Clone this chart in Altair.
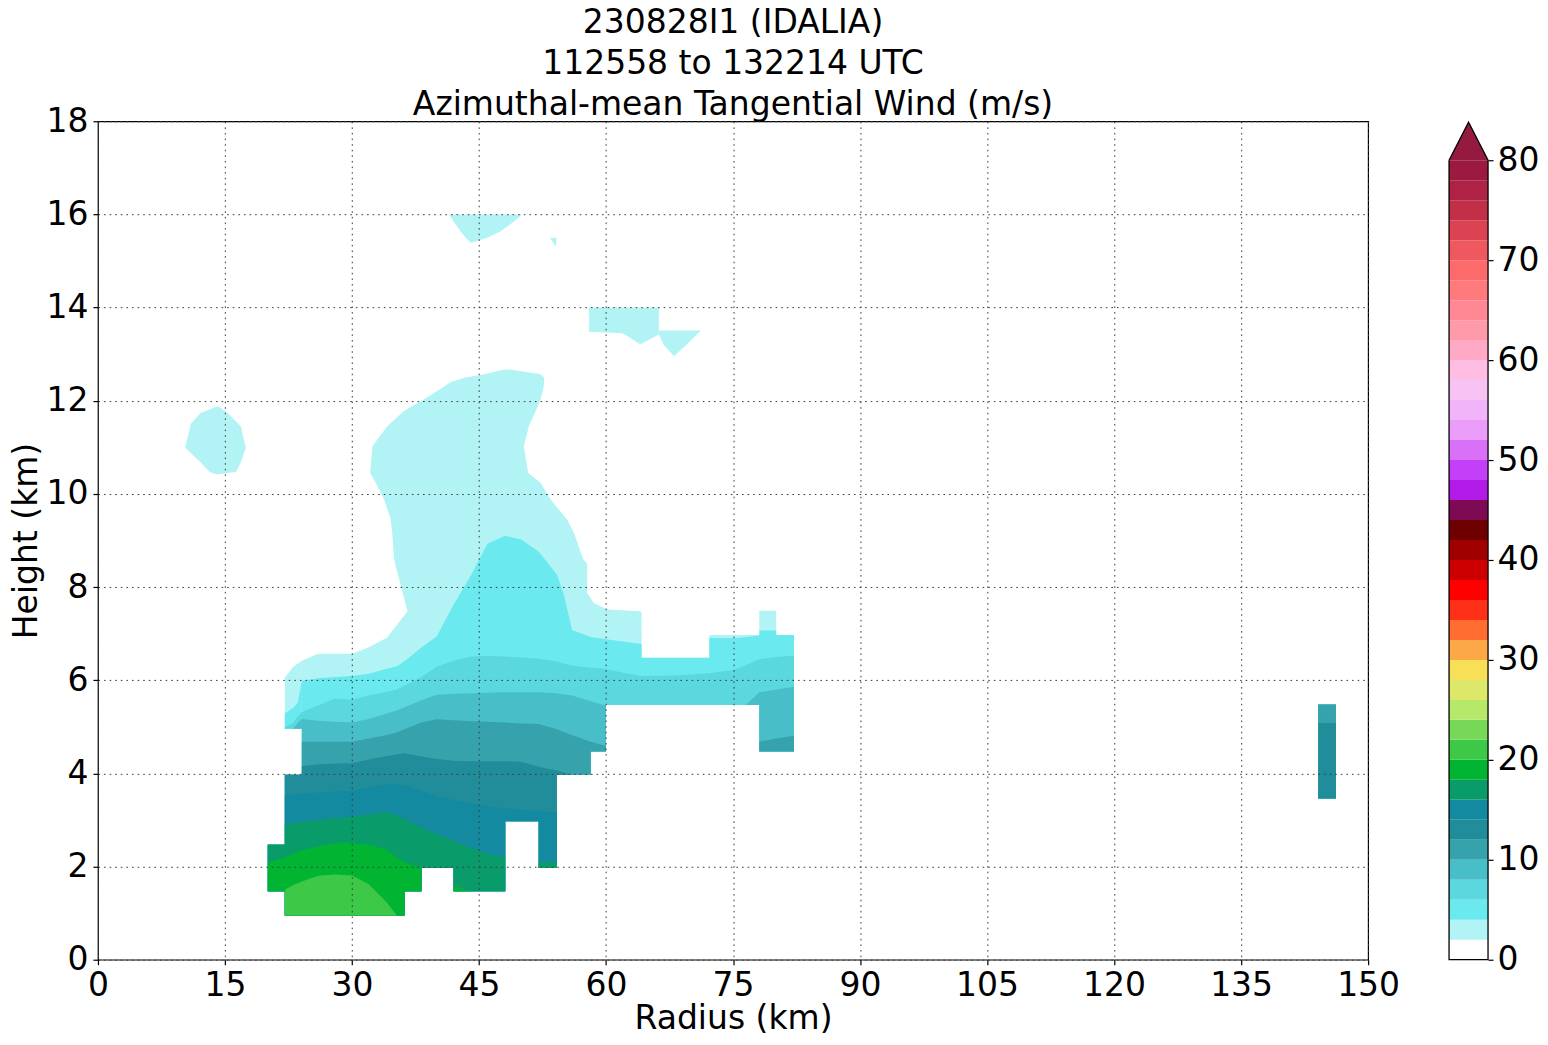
import altair as alt
import pandas as pd

# ---------------- colour bands (m/s): lower bound of each 2 m/s band ----------------
LEVELS = list(range(0, 80, 2))
COLORS = ["#ffffff", "#b2f4f5", "#6ae9ee", "#5bd8de", "#48bec8", "#36a2ac", "#218d9b", "#138aa0",
          "#099b6a", "#01b432", "#3ec847", "#77d858", "#b6e86a", "#dde86a", "#f8df58", "#fca848",
          "#ff6e30", "#ff3018", "#ff0000", "#cc0000", "#a00000", "#6e0000", "#7d0a52", "#b21ae8",
          "#c43ff8", "#d870f8", "#e99cf8", "#f1b4f8", "#f7c2f4", "#febde2", "#ffaac4", "#ff9aaa",
          "#ff8894", "#ff7a7c", "#fd6a6c", "#f05860", "#db4252", "#c23048", "#ae2245", "#9c1a42"]
OVER_COLOR = "#951a40"
CBAR_TICKS = [0, 10, 20, 30, 40, 50, 60, 70, 80]
X_TICKS = [0, 15, 30, 45, 60, 75, 90, 105, 120, 135, 150]
Y_TICKS = [0, 2, 4, 6, 8, 10, 12, 14, 16, 18]

# ---------------- main body: radius (km), data bottom (km), top of region >= level (km) ----------------
# 0 means the level is absent at that radius
MAIN_R = [20.06, 22.07, 22.07, 23.0, 24.08, 24.08, 26.0, 28.0, 30.0, 32.0, 34.0, 35.3, 36.2, 36.2,
          38.2, 38.2, 40.0, 42.0, 42.0, 44.0, 46.0, 48.1, 48.1, 50.0, 52.05, 52.05, 54.2, 54.2,
          55.0, 56.0, 58.2, 58.2, 60.0, 60.0, 62.0, 64.2, 64.2, 68.0, 72.2, 72.2, 75.0, 76.5,
          78.1, 78.1, 80.1, 80.1, 82.2]
MAIN_BOTTOM = [1.47, 1.47, 0.95, 0.95, 0.95, 0.95, 0.95, 0.95, 0.95, 0.95, 0.95, 0.95, 0.95, 1.47,
               1.47, 1.97, 1.97, 1.97, 1.47, 1.47, 1.47, 1.47, 2.97, 2.97, 2.97, 1.97, 1.97, 3.97,
               3.97, 3.97, 3.97, 4.47, 4.47, 5.47, 5.47, 5.47, 5.47, 5.47, 5.47, 5.47, 5.47, 5.47,
               5.47, 4.47, 4.47, 4.47, 4.47]
MAIN_TOP_2 = [2.47, 2.47, 3.97, 3.97, 3.97, 6.42, 6.57, 6.57, 6.57, 6.71, 6.9, 6.95, 6.95, 6.95,
              6.95, 6.95, 6.95, 6.95, 6.95, 6.95, 6.95, 6.95, 6.95, 6.95, 6.95, 6.95, 6.95, 6.95,
              6.95, 6.95, 6.95, 6.95, 6.95, 6.95, 6.95, 6.95, 6.48, 6.48, 6.48, 6.97, 6.97, 6.97,
              6.97, 7.49, 7.49, 6.97, 6.97]
MAIN_TOP_4 = [2.47, 2.47, 3.97, 3.97, 3.97, 5.99, 6.04, 6.07, 6.09, 6.14, 6.24, 6.3, 6.41, 6.41,
              6.7, 6.7, 6.94, 7.62, 7.62, 8.24, 8.93, 9.1, 9.1, 9.02, 8.76, 8.76, 8.27, 8.27,
              7.85, 7.08, 6.93, 6.93, 6.88, 6.88, 6.83, 6.78, 6.48, 6.48, 6.48, 6.91, 6.9, 6.93,
              6.96, 7.07, 7.07, 6.97, 6.97]
MAIN_TOP_6 = [2.47, 2.47, 3.97, 3.97, 3.97, 5.32, 5.46, 5.61, 5.58, 5.67, 5.75, 5.8, 5.88, 5.88,
              6.07, 6.07, 6.29, 6.42, 6.42, 6.51, 6.52, 6.51, 6.51, 6.49, 6.46, 6.46, 6.4, 6.4,
              6.36, 6.31, 6.27, 6.27, 6.24, 6.24, 6.16, 6.09, 6.09, 6.1, 6.15, 6.15, 6.22, 6.32,
              6.45, 6.45, 6.5, 6.5, 6.53]
MAIN_TOP_8 = [2.47, 2.47, 3.97, 3.97, 3.97, 5.17, 5.13, 5.11, 5.09, 5.17, 5.28, 5.35, 5.42, 5.42,
              5.57, 5.57, 5.69, 5.71, 5.71, 5.72, 5.73, 5.74, 5.74, 5.74, 5.74, 5.74, 5.72, 5.72,
              5.7, 5.67, 5.55, 5.55, 5.45, 0, 0, 0, 0, 0, 0, 0, 0, 5.47,
              5.74, 5.74, 5.8, 5.8, 5.86]
MAIN_TOP_10 = [2.47, 2.47, 3.97, 3.97, 3.97, 4.68, 4.68, 4.68, 4.68, 4.75, 4.82, 4.88, 4.95, 4.95,
               5.09, 5.09, 5.16, 5.14, 5.14, 5.12, 5.11, 5.09, 5.09, 5.07, 5.06, 5.06, 4.95, 4.95,
               4.89, 4.82, 4.68, 4.68, 4.59, 0, 0, 0, 0, 0, 0, 0, 0, 0,
               0, 4.68, 4.75, 4.75, 4.81]
MAIN_TOP_12 = [2.47, 2.47, 3.97, 3.97, 3.97, 4.16, 4.19, 4.21, 4.22, 4.3, 4.37, 4.41, 4.43, 4.43,
               4.36, 4.36, 4.31, 4.27, 4.27, 4.26, 4.26, 4.26, 4.26, 4.25, 4.14, 4.14, 4.06, 4.06,
               4.02, 0, 0, 0, 0, 0, 0, 0, 0, 0, 0, 0, 0, 0,
               0, 0, 0, 0, 0]
MAIN_TOP_14 = [2.47, 2.47, 3.53, 3.55, 3.57, 3.57, 3.59, 3.61, 3.62, 3.7, 3.76, 3.77, 3.75, 3.75,
               3.63, 3.63, 3.51, 3.43, 3.43, 3.36, 3.29, 3.25, 3.25, 3.22, 3.19, 3.19, 3.17, 0,
               0, 0, 0, 0, 0, 0, 0, 0, 0, 0, 0, 0, 0, 0,
               0, 0, 0, 0, 0]
MAIN_TOP_16 = [2.47, 2.47, 2.89, 2.93, 2.96, 2.96, 3.0, 3.04, 3.07, 3.12, 3.17, 3.1, 3.02, 3.02,
               2.84, 2.84, 2.7, 2.55, 2.55, 2.41, 2.27, 2.2, 0, 0, 0, 2.1, 2.1, 0,
               0, 0, 0, 0, 0, 0, 0, 0, 0, 0, 0, 0, 0, 0,
               0, 0, 0, 0, 0]
MAIN_TOP_18 = [2.08, 2.19, 2.19, 2.27, 2.35, 2.35, 2.43, 2.5, 2.51, 2.47, 2.37, 2.19, 2.1, 2.1,
               1.97, 0, 0, 0, 1.6, 0, 0, 0, 0, 0, 0, 0, 0, 0,
               0, 0, 0, 0, 0, 0, 0, 0, 0, 0, 0, 0, 0, 0,
               0, 0, 0, 0, 0]
MAIN_TOP_20 = [0, 0, 1.5, 1.6, 1.68, 1.68, 1.8, 1.83, 1.81, 1.62, 1.25, 0, 0, 0,
               0, 0, 0, 0, 0, 0, 0, 0, 0, 0, 0, 0, 0, 0,
               0, 0, 0, 0, 0, 0, 0, 0, 0, 0, 0, 0, 0, 0,
               0, 0, 0, 0, 0]

# ---------------- small block at r 22-24 km, 5-6 km height ----------------
LEFT_R = [22.07, 23.0, 23.6, 24.08]
LEFT_BOTTOM = [4.96, 4.96, 4.96, 4.96]
LEFT_TOP_2 = [6.06, 6.28, 6.36, 6.42]
LEFT_TOP_4 = [5.29, 5.4, 5.52, 5.99]
LEFT_TOP_6 = [4.99, 5.08, 5.22, 5.32]
LEFT_TOP_8 = [0, 0, 5.08, 5.17]

# ---------------- isolated column at r 144-146 km ----------------
COL_R = [144.1, 146.2]
COL_BOTTOM = [3.46, 3.46]
COL_TOP_10 = [5.48, 5.48]
COL_TOP_12 = [5.08, 5.08]

# ---------------- 2-4 m/s regions described by height: left / right radius ----------------
UPPER_H = [6.9, 6.93, 7.45, 7.48, 7.52, 7.66, 7.87, 8.3, 8.5, 8.6, 9.17, 9.45, 9.88, 10.02, 10.24,
           10.45, 11.03, 11.46, 11.78, 12.03, 12.26, 12.4, 12.5, 12.57, 12.67]
UPPER_LEFT = [34.1, 34.19, 36.42, 36.55, 36.5, 36.3, 36.0, 35.37, 35.1, 34.97, 34.75, 34.58, 33.8,
              33.4, 32.8, 32.14, 32.42, 34.2, 36.15, 38.5, 40.48, 41.66, 43.4, 45.6, 48.0]
UPPER_RIGHT = [64.2, 64.2, 64.2, 64.1, 60.15, 58.57, 57.78, 57.78, 57.78, 57.3, 56.2, 55.4, 53.46,
               53.0, 52.28, 50.8, 50.3, 50.9, 51.7, 52.28, 52.6, 52.7, 52.68, 52.28, 48.7]
WBLOB_H = [10.42, 10.45, 10.47, 10.67, 10.99, 11.2, 11.45, 11.51, 11.74, 11.87]
WBLOB_LEFT = [14.0, 13.53, 13.2, 12.16, 10.3, 10.58, 10.9, 11.0, 12.16, 14.0]
WBLOB_RIGHT = [14.3, 15.3, 16.29, 16.85, 17.47, 17.19, 16.88, 16.55, 15.3, 14.3]
NBLOB_H = [15.39, 15.5, 15.64, 15.82, 16.0]
NBLOB_LEFT = [44.0, 43.43, 42.8, 42.1, 41.47]
NBLOB_RIGHT = [44.1, 46.0, 47.56, 48.94, 50.12]
SQ_H = [15.32, 15.5]
SQ_LEFT = [54.0, 53.38]
SQ_RIGHT = [54.13, 54.13]
EBLOB1_H = [13.22, 13.42, 13.45, 13.48, 14.0]
EBLOB1_LEFT = [64.0, 62.2, 61.9, 58.0, 58.0]
EBLOB1_RIGHT = [64.15, 66.25, 66.25, 66.25, 66.25]
EBLOB2_H = [12.96, 13.2, 13.42, 13.51]
EBLOB2_LEFT = [68.0, 66.8, 66.25, 66.25]
EBLOB2_RIGHT = [68.05, 69.5, 70.7, 71.25]

TITLE = ["230828I1 (IDALIA)", "112558 to 132214 UTC", "Azimuthal-mean Tangential Wind (m/s)"]

# ---------------- build tables ----------------
VERTICAL = [
    ("main", MAIN_R, MAIN_BOTTOM, {2: MAIN_TOP_2, 4: MAIN_TOP_4, 6: MAIN_TOP_6, 8: MAIN_TOP_8,
                                   10: MAIN_TOP_10, 12: MAIN_TOP_12, 14: MAIN_TOP_14,
                                   16: MAIN_TOP_16, 18: MAIN_TOP_18, 20: MAIN_TOP_20}),
    ("left", LEFT_R, LEFT_BOTTOM, {2: LEFT_TOP_2, 4: LEFT_TOP_4, 6: LEFT_TOP_6, 8: LEFT_TOP_8}),
    ("col", COL_R, COL_BOTTOM, {2: COL_TOP_10, 4: COL_TOP_10, 6: COL_TOP_10, 8: COL_TOP_10,
                                10: COL_TOP_10, 12: COL_TOP_12}),
]
HORIZONTAL = [
    ("upper", UPPER_H, UPPER_LEFT, UPPER_RIGHT),
    ("wblob", WBLOB_H, WBLOB_LEFT, WBLOB_RIGHT),
    ("nblob", NBLOB_H, NBLOB_LEFT, NBLOB_RIGHT),
    ("sq", SQ_H, SQ_LEFT, SQ_RIGHT),
    ("eblob1", EBLOB1_H, EBLOB1_LEFT, EBLOB1_RIGHT),
    ("eblob2", EBLOB2_H, EBLOB2_LEFT, EBLOB2_RIGHT),
]

vrows = []
for name, rr, bot, tops in VERTICAL:
    for lvl, top in tops.items():
        for i, (r, b, t) in enumerate(zip(rr, bot, top)):
            vrows.append({"piece": name, "level": lvl, "i": i, "r": r, "y0": b, "y1": max(t, b)})
vdf = pd.DataFrame(vrows)

hrows = []
for name, hh, lo, hi in HORIZONTAL:
    for i, (h, a, c) in enumerate(zip(hh, lo, hi)):
        hrows.append({"piece": name, "level": 2, "i": i, "h": h, "x0": a, "x1": c})
hdf = pd.DataFrame(hrows)

FONT = "DejaVu Sans"
FS = 33
xsc = alt.Scale(domain=[0, 150], nice=False, zero=False)
ysc = alt.Scale(domain=[0, 18], nice=False, zero=False)
csc = alt.Scale(domain=LEVELS, range=COLORS)

axis_common = dict(labelFontSize=FS, titleFontSize=FS, labelFont=FONT, titleFont=FONT,
                   tickSize=5, tickColor="black", tickWidth=1.2, labelColor="black",
                   titleColor="black", titleFontWeight="normal", grid=True,
                   gridDash=[1.6, 4], gridColor="#3a3a3a", gridWidth=1, gridOpacity=1,
                   domain=False, zindex=1, labelFlush=False, labelOverlap=False)
xaxis = alt.Axis(values=X_TICKS, title="Radius (km)", labelPadding=5, titlePadding=0, **axis_common)
yaxis = alt.Axis(values=Y_TICKS, title="Height (km)", labelPadding=5, titlePadding=2, **axis_common)

layers = []
for lvl in [2, 4, 6, 8, 10, 12, 14, 16, 18, 20]:
    layers.append(
        alt.Chart(vdf).transform_filter(alt.datum.level == lvl).mark_area(
            interpolate="linear", opacity=1, clip=True
        ).encode(
            x=alt.X("r:Q", scale=xsc, axis=xaxis),
            y=alt.Y("y1:Q", scale=ysc, axis=yaxis),
            y2="y0:Q",
            color=alt.Color("level:O", scale=csc, legend=None),
            detail="piece:N",
        )
    )
    if lvl == 2:
        layers.append(
            alt.Chart(hdf).mark_area(orient="horizontal", interpolate="linear", opacity=1,
                                     clip=True).encode(
                y=alt.Y("h:Q", scale=ysc, axis=yaxis),
                x=alt.X("x1:Q", scale=xsc, axis=xaxis),
                x2="x0:Q",
                color=alt.Color("level:O", scale=csc, legend=None),
                detail="piece:N",
            )
        )

main = alt.layer(*layers).properties(
    width=1271, height=839,
    title=alt.TitleParams(TITLE, fontSize=FS, font=FONT, fontWeight="normal", color="black",
                          lineHeight=41, anchor="middle", offset=-16.5, frame="group"),
    view=alt.ViewBackground(stroke="black", strokeWidth=1.2),
)

# ---------------- colour bar ----------------
CB_EXT = 3.8  # height of the extension triangle, in colour-bar units
cb_df = pd.DataFrame({"lo": LEVELS, "hi": [v + 2 for v in LEVELS], "level": LEVELS})
top_val = LEVELS[-1] + 2
tri_df = pd.DataFrame({"x": [0, 0.5, 1], "y": [top_val, top_val + CB_EXT, top_val],
                       "base": [top_val, top_val, top_val]})
outline_df = pd.DataFrame({"x": [0, 0, 1, 1, 0.5, 0],
                           "y": [top_val, LEVELS[0], LEVELS[0], top_val, top_val + CB_EXT, top_val],
                           "i": [0, 1, 2, 3, 4, 5]})
cb_x = alt.Scale(domain=[0, 1], nice=False, zero=False)
cb_y = alt.Scale(domain=[0, top_val + CB_EXT + 0.1], nice=False, zero=False)
cb_axis = alt.Axis(values=CBAR_TICKS, orient="right", title=None, labelFontSize=FS, labelFont=FONT,
                   tickSize=5, tickColor="black", tickWidth=1.2, labelColor="black",
                   labelPadding=4, domain=False, grid=False, labelFlush=False, labelOverlap=False)

cb_rect = alt.Chart(cb_df).mark_rect().encode(
    x=alt.X("datum_x0:Q", scale=cb_x, axis=None),
    x2="datum_x1:Q",
    y=alt.Y("lo:Q", scale=cb_y, axis=cb_axis),
    y2="hi:Q",
    color=alt.Color("level:O", scale=csc, legend=None),
).transform_calculate(datum_x0="0", datum_x1="1")
cb_tri = alt.Chart(tri_df).mark_area(color=OVER_COLOR, interpolate="linear", opacity=1).encode(
    x=alt.X("x:Q", scale=cb_x, axis=None),
    y=alt.Y("y:Q", scale=cb_y, axis=cb_axis),
    y2="base:Q",
)
cb_line = alt.Chart(outline_df).mark_line(color="black", strokeWidth=1.3, interpolate="linear").encode(
    x=alt.X("x:Q", scale=cb_x, axis=None),
    y=alt.Y("y:Q", scale=cb_y, axis=cb_axis),
    order="i:Q",
)
cbar = alt.layer(cb_rect, cb_tri, cb_line).properties(
    width=39, height=839, view=alt.ViewBackground(stroke="transparent")
)

chart = alt.hconcat(main, cbar, spacing=81, bounds="flush").properties(
    padding={"left": 2, "top": -3, "right": 0, "bottom": 0},
    background="white",
).configure(font=FONT)

chart.save("out.html", embed_options={"renderer": "svg", "actions": False})
